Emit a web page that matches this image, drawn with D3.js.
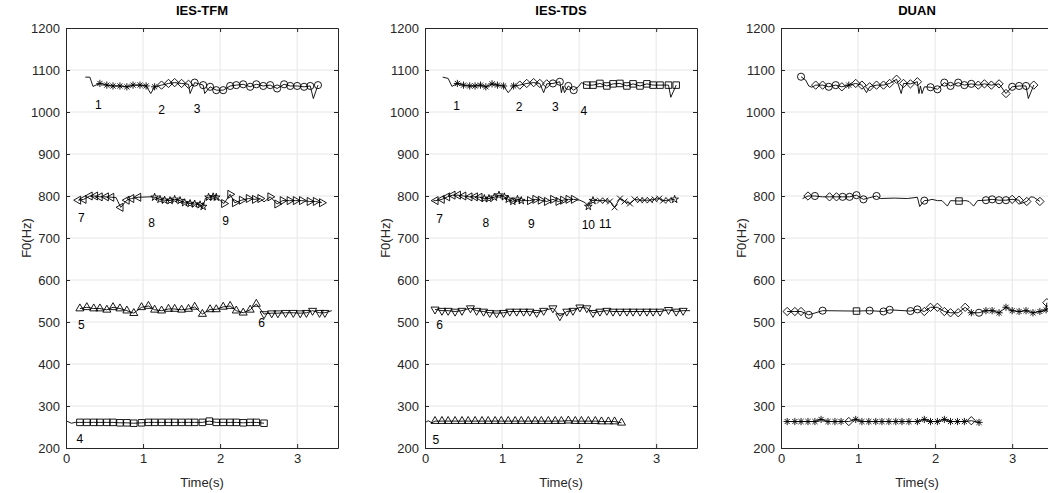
<!DOCTYPE html>
<html>
<head>
<meta charset="utf-8">
<script src="https://cdn.jsdelivr.net/npm/d3@7"></script>
<style>
  body { margin: 0; background: #fff; }
  svg { display: block; font-family: 'Liberation Sans', Arial, Helvetica, sans-serif; }
</style>
</head>
<body>
<div id="chart"></div>
<script>
// F0 tracks of three methods, one array per note track: [time (s), F0 (Hz), marker]
// marker '' means the line passes there with no marker drawn

const titles = ['IES-TFM', 'IES-TDS', 'DUAN']
const timeTicks = [0, 1, 2, 3]
const f0Ticks = [200, 300, 400, 500, 600, 700, 800, 900, 1000, 1100, 1200]
const timeDomain = [0, 3.53]
const f0Domain = [200, 1200]

// --- IES-TFM ---
const tfmHigh = [
  [0.25, 1083, ''], [0.31, 1083, ''], [0.35, 1061, ''],
  [0.44, 1068, '*'], [0.53, 1064, '*'], [0.61, 1062, '*'], [0.70, 1062, '*'], [0.79, 1060, '*'],
  [0.87, 1064, '*'], [0.96, 1064, '*'], [1.04, 1062, '*'], [1.10, 1044, ''], [1.15, 1060, '*'],
  [1.24, 1064, 'd'], [1.33, 1068, 'd'], [1.41, 1070, 'd'], [1.50, 1068, 'd'], [1.59, 1066, 'd'], [1.61, 1044, ''],
  [1.67, 1070, 'o'], [1.78, 1064, 'o'], [1.80, 1044, ''], [1.87, 1060, 'o'], [1.95, 1052, 'o'], [2.04, 1052, 'o'],
  [2.13, 1062, 'o'], [2.21, 1064, 'o'], [2.30, 1066, 'o'], [2.39, 1060, 'o'], [2.47, 1066, 'o'], [2.56, 1062, 'o'],
  [2.65, 1064, 'o'], [2.74, 1056, 'o'], [2.83, 1066, 'o'], [2.91, 1062, 'o'], [3.00, 1062, 'o'], [3.09, 1060, 'o'],
  [3.17, 1062, 'o'], [3.21, 1032, ''], [3.27, 1064, 'o']
]
const tfmMid = [
  [0.16, 790, '<'], [0.23, 792, '<'], [0.31, 800, '<'], [0.38, 800, '<'], [0.44, 798, '<'], [0.52, 798, '<'],
  [0.59, 797, '<'], [0.65, 796, ''], [0.71, 773, '<'], [0.79, 790, '<'], [0.85, 794, '<'], [0.94, 797, '<'],
  [1.09, 798, ''],
  [1.15, 797, 'p'], [1.22, 792, 'p'], [1.28, 790, 'p'], [1.35, 789, 'p'], [1.41, 792, 'p'], [1.48, 789, 'p'],
  [1.54, 784, 'p'], [1.61, 782, 'p'], [1.67, 781, 'p'], [1.74, 779, 'p'], [1.78, 775, 'p'], [1.81, 795, ''],
  [1.85, 797, 'p'], [1.91, 798, 'p'], [1.95, 797, 'p'],
  [2.05, 782, '>'], [2.13, 804, '>'], [2.19, 784, '>'], [2.28, 790, '>'], [2.37, 794, '>'], [2.45, 792, '>'],
  [2.52, 794, '>'], [2.57, 786, ''], [2.65, 798, '>'], [2.74, 781, '>'], [2.81, 789, '>'], [2.90, 789, '>'],
  [2.98, 789, '>'], [3.06, 789, '>'], [3.16, 787, '>'], [3.24, 787, '>'], [3.32, 784, '>']
]
const tfmLow = [
  [0.18, 532, '^'], [0.27, 535, '^'], [0.36, 532, '^'], [0.44, 532, '^'], [0.53, 529, '^'], [0.61, 535, '^'],
  [0.70, 532, '^'], [0.79, 527, '^'], [0.88, 521, '^'], [0.98, 535, '^'], [1.07, 538, '^'], [1.15, 529, '^'],
  [1.24, 527, '^'], [1.33, 531, '^'], [1.41, 531, '^'], [1.50, 529, '^'], [1.59, 531, '^'], [1.67, 536, '^'],
  [1.77, 519, '^'], [1.87, 530, '^'], [1.95, 530, '^'], [2.04, 536, '^'], [2.13, 538, '^'], [2.21, 527, '^'],
  [2.30, 522, '^'], [2.39, 529, '^'], [2.47, 543, '^'],
  [2.57, 519, 'v'], [2.67, 521, 'v'], [2.75, 521, 'v'], [2.85, 522, 'v'], [2.95, 522, 'v'], [3.04, 521, 'v'],
  [3.12, 522, 'v'], [3.20, 527, 'v'], [3.29, 522, 'v'], [3.36, 522, 'v'], [3.45, 527, '']
]
const tfmBass = [
  [0.01, 264, ''], [0.07, 259, ''], [0.12, 261, ''],
  [0.18, 261, 's'], [0.27, 261, 's'], [0.36, 261, 's'], [0.44, 261, 's'], [0.53, 261, 's'], [0.61, 261, 's'],
  [0.70, 260, 's'], [0.79, 260, 's'], [0.88, 259, 's'], [0.98, 260, 's'], [1.07, 261, 's'], [1.15, 261, 's'],
  [1.24, 261, 's'], [1.33, 261, 's'], [1.41, 261, 's'], [1.50, 261, 's'], [1.59, 261, 's'], [1.67, 261, 's'],
  [1.77, 261, 's'], [1.86, 264, 's'], [1.95, 261, 's'], [2.04, 261, 's'], [2.13, 261, 's'], [2.21, 261, 's'],
  [2.30, 260, 's'], [2.39, 261, 's'], [2.47, 261, 's'], [2.57, 259, 's']
]
const tfmLabels = [
  ['1', 0.42, 1017], ['2', 1.24, 1005], ['3', 1.70, 1007], ['4', 0.18, 223], ['5', 0.20, 493],
  ['6', 2.54, 497], ['7', 0.20, 749], ['8', 1.11, 737], ['9', 2.07, 741]
]

// --- IES-TDS ---
const tdsHigh = [
  [0.23, 1083, ''], [0.30, 1080, ''], [0.35, 1061, ''],
  [0.42, 1068, '*'], [0.50, 1064, '*'], [0.58, 1062, '*'], [0.65, 1062, '*'], [0.72, 1064, '*'], [0.79, 1060, '*'],
  [0.87, 1067, '*'], [0.94, 1064, '*'], [1.02, 1062, '*'], [1.08, 1046, ''], [1.15, 1062, '*'],
  [1.23, 1064, 'd'], [1.32, 1068, 'd'], [1.41, 1070, 'd'], [1.49, 1068, 'd'], [1.54, 1046, ''], [1.58, 1067, 'd'],
  [1.66, 1068, 'o'], [1.75, 1072, 'o'], [1.77, 1046, ''], [1.79, 1062, ''], [1.81, 1046, ''],
  [1.86, 1062, 'o'], [1.93, 1052, 'o'], [1.99, 1060, ''], [2.03, 1070, ''],
  [2.10, 1064, 's'], [2.18, 1064, 's'], [2.27, 1068, 's'], [2.36, 1062, 's'], [2.44, 1067, 's'], [2.53, 1068, 's'],
  [2.62, 1062, 's'], [2.70, 1067, 's'], [2.79, 1062, 's'], [2.88, 1067, 's'], [2.96, 1064, 's'], [3.05, 1064, 's'],
  [3.16, 1064, 's'], [3.19, 1035, ''], [3.26, 1064, 's']
]
const tdsMid = [
  [0.11, 789, ''],
  [0.14, 789, '<'], [0.22, 792, '<'], [0.29, 798, '<'], [0.36, 802, '<'], [0.43, 802, '<'], [0.50, 800, '<'],
  [0.58, 798, '<'], [0.65, 798, '<'], [0.71, 797, '<'],
  [0.77, 794, 'p'], [0.83, 794, 'p'], [0.90, 797, 'p'], [0.96, 802, 'p'], [1.03, 798, 'p'], [1.08, 792, 'p'],
  [1.14, 787, 'p'], [1.20, 792, 'p'], [1.25, 789, 'p'],
  [1.36, 789, '>'], [1.43, 792, '>'], [1.50, 790, '>'], [1.58, 787, '>'], [1.66, 792, '>'], [1.73, 787, '>'],
  [1.79, 790, '>'], [1.86, 792, '>'], [1.93, 792, '>'], [2.01, 790, ''], [2.08, 784, ''],
  [2.12, 775, 'p'], [2.15, 790, ''], [2.18, 789, 'p'],
  [2.27, 789, 'x'], [2.34, 789, 'x'], [2.40, 787, 'x'], [2.46, 773, 'x'], [2.53, 794, 'x'], [2.59, 787, 'x'],
  [2.66, 782, 'x'], [2.72, 792, 'x'], [2.79, 790, 'x'], [2.85, 790, 'x'], [2.92, 790, 'x'], [2.98, 792, 'x'],
  [3.04, 794, 'x'], [3.09, 789, 'x'], [3.16, 790, 'x'], [3.24, 792, 'p']
]
const tdsLow = [
  [0.13, 530, 'v'], [0.22, 527, 'v'], [0.30, 527, 'v'], [0.39, 525, 'v'], [0.48, 527, 'v'], [0.59, 533, 'v'],
  [0.67, 527, 'v'], [0.76, 525, 'v'], [0.84, 522, 'v'], [0.93, 521, 'v'], [1.02, 522, 'v'], [1.10, 525, 'v'],
  [1.19, 525, 'v'], [1.28, 525, 'v'], [1.36, 525, 'v'], [1.45, 522, 'v'], [1.54, 527, 'v'], [1.66, 533, 'v'],
  [1.75, 514, 'v'], [1.84, 525, 'v'], [1.92, 527, 'v'], [2.01, 535, 'v'], [2.10, 533, 'v'], [2.18, 522, 'v'],
  [2.27, 525, 'v'], [2.36, 527, 'v'], [2.44, 525, 'v'], [2.53, 525, 'v'], [2.62, 525, 'v'], [2.70, 525, 'v'],
  [2.79, 525, 'v'], [2.88, 525, 'v'], [2.96, 525, 'v'], [3.05, 525, 'v'], [3.16, 529, 'v'], [3.26, 525, 'v'],
  [3.35, 527, 'v'], [3.44, 527, '']
]
const tdsBass = [
  [0.00, 260, ''], [0.04, 265, ''], [0.09, 260, ''],
  [0.13, 264, '^'], [0.22, 264, '^'], [0.30, 264, '^'], [0.39, 264, '^'], [0.48, 264, '^'], [0.56, 264, '^'],
  [0.65, 264, '^'], [0.74, 264, '^'], [0.82, 264, '^'], [0.91, 264, '^'], [0.99, 264, '^'], [1.08, 264, '^'],
  [1.17, 264, '^'], [1.25, 264, '^'], [1.34, 264, '^'], [1.43, 264, '^'], [1.51, 264, '^'], [1.60, 264, '^'],
  [1.69, 264, '^'], [1.77, 264, '^'], [1.86, 265, '^'], [1.95, 264, '^'], [2.03, 264, '^'], [2.12, 264, '^'],
  [2.21, 264, '^'], [2.29, 263, '^'], [2.38, 263, '^'], [2.46, 263, '^'], [2.55, 260, '^']
]
const tdsLabels = [
  ['1', 0.41, 1014], ['2', 1.22, 1013], ['3', 1.69, 1013], ['4', 2.06, 1002], ['5', 0.14, 219],
  ['6', 0.19, 493], ['7', 0.19, 745], ['8', 0.79, 737], ['9', 1.38, 735], ['10', 2.12, 731], ['11', 2.34, 735]
]

// --- DUAN ---
const duanHigh = [
  [0.26, 1084, 'o'], [0.32, 1076, ''], [0.36, 1062, ''], [0.40, 1059, ''],
  [0.45, 1064, 'd'], [0.54, 1064, 'd'], [0.62, 1060, 'o'], [0.71, 1064, 'o'], [0.79, 1060, 'd'], [0.88, 1064, '*'],
  [0.97, 1068, 'd'], [1.05, 1064, 'd'], [1.11, 1046, ''], [1.15, 1060, 'd'], [1.24, 1064, 'd'], [1.33, 1064, 'd'],
  [1.41, 1068, 'd'], [1.50, 1078, 'd'], [1.56, 1044, ''], [1.59, 1068, 'd'], [1.68, 1067, 'd'], [1.77, 1072, 'd'],
  [1.79, 1044, ''], [1.81, 1062, ''], [1.83, 1044, ''], [1.86, 1060, ''],
  [1.94, 1059, 'o'], [2.03, 1054, 'o'], [2.12, 1070, 'o'], [2.20, 1062, 'o'], [2.30, 1070, 'o'], [2.38, 1064, 'o'],
  [2.47, 1067, 'o'], [2.56, 1064, 'd'], [2.64, 1067, 'd'], [2.73, 1064, 'd'], [2.83, 1067, 'd'], [2.92, 1044, 'd'],
  [3.00, 1060, 'o'], [3.09, 1062, 'o'], [3.18, 1062, 'o'], [3.21, 1032, ''], [3.28, 1064, 'd']
]
const duanMid = [
  [0.28, 794, ''], [0.35, 800, 'd'], [0.44, 800, 'o'], [0.54, 798, ''], [0.63, 798, 'd'], [0.72, 798, 'd'],
  [0.80, 798, 'o'], [0.89, 798, 'o'], [0.98, 802, 'o'], [1.07, 792, 'o'], [1.15, 796, ''], [1.24, 800, 'o'],
  [1.29, 794, ''], [1.47, 795, ''], [1.64, 794, ''], [1.77, 797, ''], [1.80, 775, ''], [1.86, 789, 'o'],
  [1.92, 790, ''], [1.96, 792, ''], [2.03, 789, ''], [2.09, 789, ''], [2.16, 776, ''], [2.20, 789, ''],
  [2.31, 788, 's'], [2.40, 789, ''], [2.44, 787, ''], [2.50, 776, ''], [2.55, 789, ''],
  [2.66, 790, 'o'], [2.74, 792, 'o'], [2.83, 790, 'o'], [2.92, 790, 'o'], [3.00, 792, 'd'], [3.09, 790, 'd'],
  [3.11, 782, ''], [3.19, 787, 'd'], [3.24, 798, ''], [3.28, 797, ''], [3.36, 787, 'd']
]
const duanLow = [
  [0.08, 525, 'd'], [0.18, 525, 'd'], [0.26, 525, 'd'], [0.36, 517, 'o'], [0.54, 527, 'o'], [0.98, 526, 's'],
  [1.15, 527, 'o'], [1.33, 525, 'o'], [1.41, 529, 'o'], [1.68, 526, 'o'], [1.77, 530, 'o'], [1.86, 525, 'd'],
  [1.94, 535, 'd'], [2.03, 535, 'd'], [2.12, 525, 'd'], [2.20, 522, 'd'], [2.30, 522, 'd'], [2.39, 535, 'd'],
  [2.47, 522, '*'], [2.57, 522, 'o'], [2.66, 527, '*'], [2.74, 527, '*'], [2.83, 522, '*'], [2.92, 535, '*'],
  [3.00, 527, '*'], [3.09, 525, '*'], [3.18, 527, '*'], [3.27, 522, '*'], [3.36, 525, '*'], [3.44, 529, '*'],
  [3.45, 546, 'd']
]
const duanBass = [
  [0.08, 263, '*'], [0.18, 263, '*'], [0.26, 263, '*'], [0.35, 263, '*'], [0.44, 263, '*'], [0.52, 268, '*'],
  [0.61, 263, '*'], [0.70, 263, '*'], [0.78, 263, '*'], [0.88, 263, 'd'], [0.97, 268, '*'], [1.05, 263, '*'],
  [1.14, 263, '*'], [1.23, 263, '*'], [1.31, 263, '*'], [1.40, 263, '*'], [1.49, 263, '*'], [1.57, 263, '*'],
  [1.66, 263, '*'], [1.77, 263, '*'], [1.86, 268, '*'], [1.94, 263, '*'], [2.03, 263, '*'], [2.12, 268, '*'],
  [2.20, 263, '*'], [2.29, 263, '*'], [2.38, 263, '*'], [2.47, 265, 'd'], [2.57, 261, '*']
]

// layout
const W = 1048
const H = 493
const plotTop = 28
const plotBottom = 448
const plotWidth = 272
const panelLefts = [66, 425, 781]
const ink = '#262626'
const gridColor = '#e6e6e6'

// MATLAB style '*' : a plus and a cross on top of each other
const asterisk8 = {
  draw(ctx, size) {
    const r = Math.sqrt(size) * 0.5
    const d = r * Math.SQRT1_2
    ctx.moveTo(-r, 0); ctx.lineTo(r, 0)
    ctx.moveTo(0, -r); ctx.lineTo(0, r)
    ctx.moveTo(-d, -d); ctx.lineTo(d, d)
    ctx.moveTo(-d, d); ctx.lineTo(d, -d)
  }
}

const markerStyles = {
  'o': { type: d3.symbolCircle, size: 40, rotate: 0 },
  's': { type: d3.symbolSquare2, size: 54, rotate: 0 },
  'd': { type: d3.symbolDiamond2, size: 44, rotate: 0 },
  '^': { type: d3.symbolTriangle2, size: 46, rotate: 0 },
  'v': { type: d3.symbolTriangle2, size: 46, rotate: 180 },
  '<': { type: d3.symbolTriangle2, size: 46, rotate: -90 },
  '>': { type: d3.symbolTriangle2, size: 46, rotate: 90 },
  '*': { type: asterisk8, size: 52, rotate: 0 },
  'p': { type: d3.symbolStar, size: 18, rotate: 0 },
  'x': { type: d3.symbolTimes, size: 24, rotate: 0 }
}

const panels = [
  { title: titles[0], tracks: [tfmHigh, tfmMid, tfmLow, tfmBass], labels: tfmLabels },
  { title: titles[1], tracks: [tdsHigh, tdsMid, tdsLow, tdsBass], labels: tdsLabels },
  { title: titles[2], tracks: [duanHigh, duanMid, duanLow, duanBass], labels: [] }
]

const svg = d3.select('#chart')
  .append('svg')
  .attr('width', W)
  .attr('height', H)

svg.append('rect').attr('width', W).attr('height', H).attr('fill', '#fff')

panels.forEach((panel, i) => {
  const left = panelLefts[i]
  const x = d3.scaleLinear().domain(timeDomain).range([left, left + plotWidth])
  const y = d3.scaleLinear().domain(f0Domain).range([plotBottom, plotTop])
  const g = svg.append('g').attr('class', 'panel')

  // grid
  g.append('g')
    .selectAll('line')
    .data(timeTicks.filter(t => t > timeDomain[0]))
    .join('line')
    .attr('x1', d => x(d)).attr('x2', d => x(d))
    .attr('y1', plotTop).attr('y2', plotBottom)
    .attr('stroke', gridColor)
  g.append('g')
    .selectAll('line')
    .data(f0Ticks.filter(f => f > f0Domain[0] && f < f0Domain[1]))
    .join('line')
    .attr('x1', left).attr('x2', left + plotWidth)
    .attr('y1', d => y(d)).attr('y2', d => y(d))
    .attr('stroke', gridColor)

  // tracks
  const line = d3.line().x(d => x(d[0])).y(d => y(d[1]))
  panel.tracks.forEach(track => {
    g.append('path')
      .datum(track)
      .attr('d', line)
      .attr('fill', 'none')
      .attr('stroke', '#000')
      .attr('stroke-width', 0.9)
      .attr('stroke-linejoin', 'round')

    g.append('g')
      .selectAll('path')
      .data(track.filter(d => d[2] !== ''))
      .join('path')
      .attr('d', d => d3.symbol(markerStyles[d[2]].type, markerStyles[d[2]].size)())
      .attr('transform', d => `translate(${x(d[0])},${y(d[1])}) rotate(${markerStyles[d[2]].rotate})`)
      .attr('fill', 'none')
      .attr('stroke', '#000')
      .attr('stroke-width', 0.9)
  })

  // note numbers
  g.append('g')
    .selectAll('text')
    .data(panel.labels)
    .join('text')
    .attr('x', d => x(d[1]))
    .attr('y', d => y(d[2]))
    .attr('dy', '0.35em')
    .attr('text-anchor', 'middle')
    .attr('font-size', 12)
    .attr('fill', '#000')
    .text(d => d[0])

  // axes with inward ticks on all four sides
  const styleAxis = sel => {
    sel.attr('font-family', null).attr('font-size', 13)
    sel.select('.domain').attr('stroke', ink)
    sel.selectAll('.tick line').attr('stroke', ink)
    sel.selectAll('.tick text').attr('fill', ink)
  }
  g.append('g')
    .attr('transform', `translate(0,${plotBottom})`)
    .call(d3.axisBottom(x).tickValues(timeTicks).tickSize(-4).tickSizeOuter(0).tickPadding(6).tickFormat(d3.format('d')))
    .call(styleAxis)
  g.append('g')
    .attr('transform', `translate(0,${plotTop})`)
    .call(d3.axisTop(x).tickValues(timeTicks).tickSize(-4).tickSizeOuter(0).tickFormat(''))
    .call(styleAxis)
  g.append('g')
    .attr('transform', `translate(${left},0)`)
    .call(d3.axisLeft(y).tickValues(f0Ticks).tickSize(-4).tickSizeOuter(0).tickPadding(6).tickFormat(d3.format('d')))
    .call(styleAxis)
  g.append('g')
    .attr('transform', `translate(${left + plotWidth},0)`)
    .call(d3.axisRight(y).tickValues(f0Ticks).tickSize(-4).tickSizeOuter(0).tickFormat(''))
    .call(styleAxis)

  // titles and axis names
  g.append('text')
    .attr('x', left + plotWidth / 2)
    .attr('y', 15)
    .attr('text-anchor', 'middle')
    .attr('font-size', 13)
    .attr('font-weight', 'bold')
    .attr('fill', '#000')
    .text(panel.title)
  g.append('text')
    .attr('x', left + plotWidth / 2)
    .attr('y', 487)
    .attr('text-anchor', 'middle')
    .attr('font-size', 13)
    .attr('fill', ink)
    .text('Time(s)')
  g.append('text')
    .attr('transform', `translate(${left - 35},${(plotTop + plotBottom) / 2}) rotate(-90)`)
    .attr('text-anchor', 'middle')
    .attr('font-size', 13)
    .attr('fill', ink)
    .text('F0(Hz)')
})
</script>
</body>
</html>
